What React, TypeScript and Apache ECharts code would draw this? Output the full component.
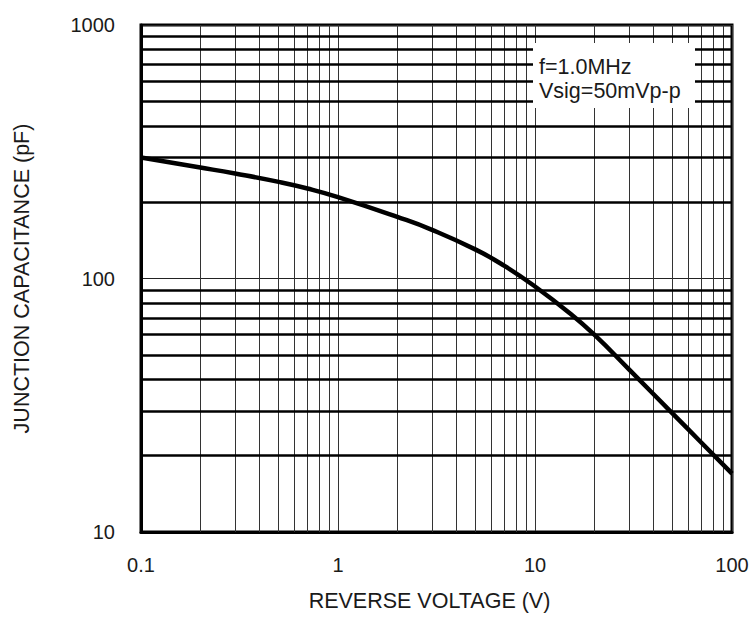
import React, { useEffect, useRef } from "react";
import * as echarts from "echarts";

const voltage = [0.1, 0.2, 0.3, 0.5, 0.7, 1, 2, 3, 5, 7, 10, 15, 20, 30, 50, 70, 100];
const capacitance = [300, 274, 259.5, 240.5, 226.5, 209.5, 175, 155.6, 130, 112.1, 93, 73, 60, 43.8, 29.3, 22.5, 17];

const hGridValues = [20, 30, 40, 50, 60, 70, 80, 90, 200, 300, 400, 500, 600, 700, 800, 900];
const vGridValues = [0.2, 0.3, 0.4, 0.5, 0.6, 0.7, 0.8, 0.9, 2, 3, 4, 5, 6, 7, 8, 9, 20, 30, 40, 50, 60, 70, 80, 90];

const xTitle = "REVERSE VOLTAGE (V)";
const yTitle = "JUNCTION CAPACITANCE (pF)";
const noteLines = ["f=1.0MHz", "Vsig=50mVp-p"];

const FONT = "'Liberation Sans', Arial, Helvetica, sans-serif";

export default function App() {
  const ref = useRef<HTMLDivElement>(null);
  useEffect(() => {
    if (!ref.current) return;
    const chart = echarts.init(ref.current, undefined, { renderer: "svg" });
    const fmt = (v: number) => (v < 1 ? v.toFixed(1) : String(Math.round(v)));
    chart.setOption({
      animation: false,
      backgroundColor: "#fff",
      grid: { left: 141, right: 21, top: 25, bottom: 80, show: true, borderColor: "#000", borderWidth: 3, backgroundColor: "#fff" },
      xAxis: {
        type: "log",
        logBase: 10,
        min: 0.1,
        max: 100,
        name: xTitle,
        nameLocation: "middle",
        nameGap: 58,
        nameTextStyle: { fontFamily: FONT, fontSize: 21.5, color: "#1a1a1a", padding: [0, 14, 0, 0] },
        axisLine: { show: true, lineStyle: { color: "#000", width: 3 } },
        axisTick: { show: false },
        axisLabel: { fontFamily: FONT, fontSize: 20, color: "#1a1a1a", margin: 23, formatter: fmt },
        splitLine: { show: true, lineStyle: { color: "#333", width: 1 } },
      },
      yAxis: {
        type: "log",
        logBase: 10,
        min: 10,
        max: 1000,
        interval: 1,
        name: yTitle,
        nameLocation: "middle",
        nameGap: 108,
        nameTextStyle: { fontFamily: FONT, fontSize: 21.5, color: "#1a1a1a" },
        axisLine: { show: true, lineStyle: { color: "#000", width: 3 } },
        axisTick: { show: false },
        axisLabel: { fontFamily: FONT, fontSize: 20, color: "#1a1a1a", margin: 26, formatter: fmt },
        splitLine: { show: true, lineStyle: { color: "#222", width: 1 } },
      },
      series: [
        {
          type: "line",
          name: "vgrid",
          data: [],
          z: 1,
          silent: true,
          markLine: {
            silent: true,
            symbol: "none",
            label: { show: false },
            lineStyle: { color: "#333", width: 1, type: "solid" },
            data: vGridValues.map((v) => ({ xAxis: v })),
          },
        },
        {
          type: "line",
          name: "hgrid",
          data: [],
          z: 2,
          silent: true,
          markLine: {
            silent: true,
            symbol: "none",
            label: { show: false },
            lineStyle: { color: "#000", width: 2.5, type: "solid" },
            data: hGridValues.map((v) => ({ yAxis: v })),
          },
        },
        {
          type: "line",
          name: "Cj",
          z: 5,
          smooth: 0.5,
          showSymbol: false,
          lineStyle: { color: "#000", width: 4.5 },
          itemStyle: { color: "#000" },
          data: voltage.map((v, i) => [v, capacitance[i]]),
        },
      ],
      graphic: [
        {
          type: "group",
          z: 100,
          children: [
            { type: "rect", shape: { x: 533, y: 43, width: 162, height: 65 }, style: { fill: "#fff" }, z: 100 },
            { type: "text", x: 539, y: 67, z: 101, style: { text: noteLines[0], font: `21.5px ${FONT}`, fill: "#1a1a1a", verticalAlign: "middle" } },
            { type: "text", x: 539, y: 91, z: 101, style: { text: noteLines[1], font: `21.5px ${FONT}`, fill: "#1a1a1a", verticalAlign: "middle" } },
          ],
        },
      ],
    });
    return () => chart.dispose();
  }, []);
  return <div ref={ref} style={{ width: 753, height: 617, position: "absolute", left: 0, top: 0 }} />;
}
